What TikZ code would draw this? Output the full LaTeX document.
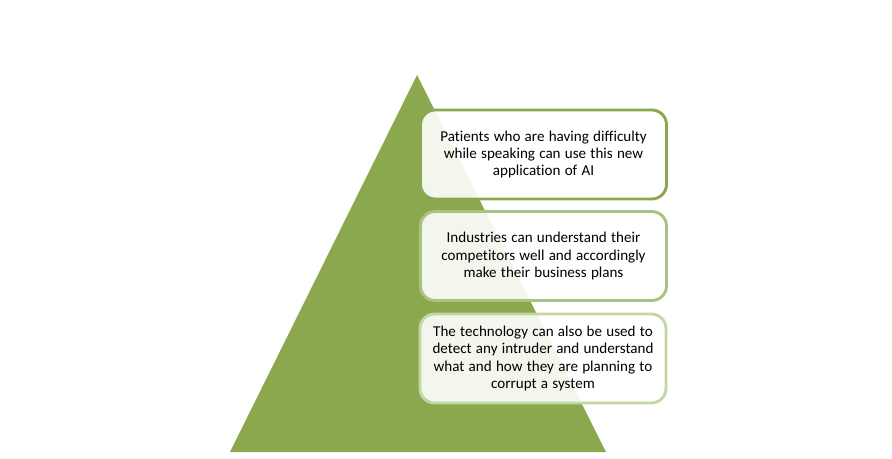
\documentclass[tikz,border=0pt]{standalone}
\usepackage{fontspec}
\setmainfont{Carlito}[Ligatures={NoCommon}, WordSpace={1.25}]
\definecolor{tri}{HTML}{8BA84F}
\definecolor{bA}{HTML}{8BA84F}
\definecolor{bB}{HTML}{A9C480}
\definecolor{bC}{HTML}{C3D6A6}
\begin{document}
\begin{tikzpicture}[x=0.75pt,y=-0.75pt,
  card/.style={rounded corners=11pt, line width=2.2pt, fill=white, fill opacity=0.9, text opacity=1,
    minimum width=246*0.75pt, minimum height=89*0.75pt, align=center,
    font=\fontsize{11.3pt}{13.1pt}\selectfont, inner sep=0pt}]
\useasboundingbox (0,0) rectangle (892,458);
\fill[tri] (417,75) -- (606,452) -- (230,452) -- cycle;
\node[card, draw=bA] (n1) at (543.5,154.5) {Patients who are having difficulty\\ while speaking can use this new\\ application of AI};
\node[card, draw=bB] (n2) at (543.5,256) {Industries can understand their\\ competitors well and accordingly\\ make their business plans};
\node[card, draw=bC] (n3) at (543,358.5) {The technology can also be used to\\ detect any intruder and understand\\ what and how they are planning to\\ corrupt a system};
\end{tikzpicture}
\end{document}
